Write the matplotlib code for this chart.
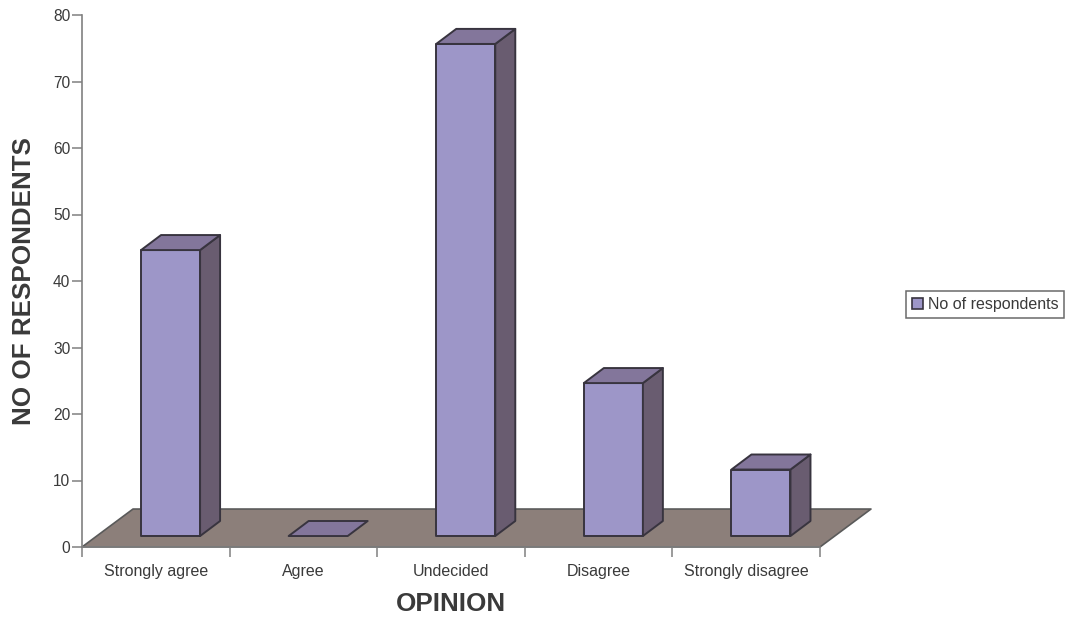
import numpy as np
from matplotlib import pyplot as plt
from matplotlib.patches import Polygon, Patch

categories = ["Strongly agree", "Agree", "Undecided", "Disagree", "Strongly disagree"]
respondents = [43, 0, 74, 23, 10]
y_ticks = [0, 10, 20, 30, 40, 50, 60, 70, 80]

W, H = 1071, 619
plt.rcParams['font.family'] = ['Liberation Sans', 'DejaVu Sans']

FRONT = "#9d96c8"
TOP = "#83769b"
SIDE = "#695c70"
FLOOR = "#8c7f7a"
EDGE = "#38343f"
AXIS = "#808080"
TEXT = "#3a3a3a"

fig = plt.figure(figsize=(W / 100, H / 100), dpi=100)
ax = fig.add_axes([82 / W, 1 - 547 / H, 738 / W, 532 / H])
ax.set_xlim(0, 5)
ax.set_ylim(0, 80)

# depth of the floor and of the bars, in data units
floor_dx, floor_dy = 0.3455, 5.71
bar_dx, bar_dy = 0.1355, 2.26
bar_w = 0.4
base_y = 1.65


def face(points, color, z, lw=1.4, edge=EDGE):
    ax.add_patch(Polygon(points, closed=True, facecolor=color, edgecolor=edge,
                         linewidth=lw, joinstyle='round', clip_on=False, zorder=z))


# floor
face([(0, 0), (5, 0), (5 + floor_dx, floor_dy), (floor_dx, floor_dy)], FLOOR, 1, lw=1.2, edge="#5a5a5a")

# bars
for i, val in enumerate(respondents):
    x0 = i + 0.4
    x1 = x0 + bar_w
    y0 = base_y
    y1 = base_y + val
    if val > 0:
        face([(x0, y0), (x1, y0), (x1, y1), (x0, y1)], FRONT, 3)
        face([(x1, y0), (x1 + bar_dx, y0 + bar_dy), (x1 + bar_dx, y1 + bar_dy), (x1, y1)], SIDE, 3)
    face([(x0, y1), (x1, y1), (x1 + bar_dx, y1 + bar_dy), (x0 + bar_dx, y1 + bar_dy)], TOP, 3)

# axes
for s in ['top', 'right']:
    ax.spines[s].set_visible(False)
for s in ['left', 'bottom']:
    ax.spines[s].set_color(AXIS)
    ax.spines[s].set_linewidth(1.2)

ax.set_yticks(y_ticks)
ax.set_xticks(range(6))
ax.set_xticklabels([])
ax.set_xticks(np.arange(5) + 0.5, categories, minor=True)
ax.tick_params(axis='y', length=7, width=1.1, color=AXIS, labelcolor=TEXT, labelsize=11.2, pad=1.5)
ax.tick_params(axis='x', which='major', length=7, width=1.1, color=AXIS)
ax.tick_params(axis='x', which='minor', length=0, labelcolor=TEXT, labelsize=11.5, pad=12.5)

ax.set_xlabel("OPINION", fontsize=18.7, fontweight='bold', color=TEXT, labelpad=9)
ax.set_ylabel("NO OF RESPONDENTS", fontsize=18.7, fontweight='bold', color=TEXT, labelpad=12)

# legend
leg = fig.legend(handles=[Patch(facecolor=FRONT, edgecolor=EDGE, linewidth=1.2, label="No of respondents")],
                 loc='center left', bbox_to_anchor=(906 / W, 1 - 304.5 / H), fontsize=11.5,
                 fancybox=False, framealpha=1, edgecolor="#6a6a6a", labelcolor=TEXT,
                 handlelength=0.7, handleheight=0.7, handletextpad=0.3, borderpad=0.35, borderaxespad=0)
leg.get_frame().set_linewidth(1.1)

plt.savefig("out.png", dpi=100)
